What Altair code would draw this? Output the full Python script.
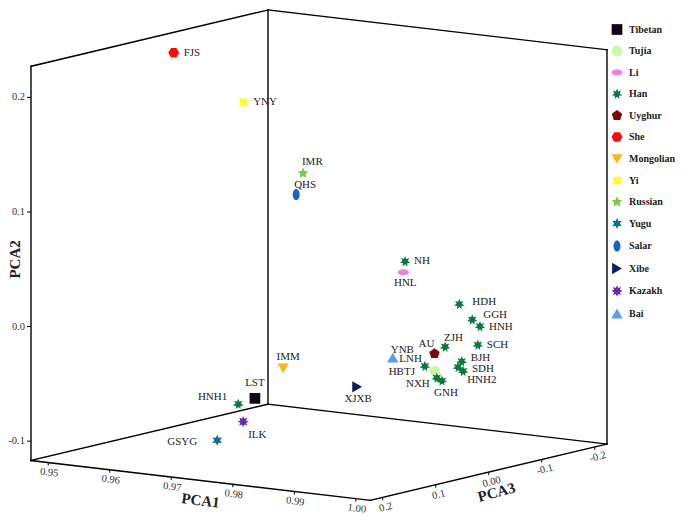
import math
import altair as alt
import pandas as pd

# ---------------- data ----------------
populations = ["FJS", "YNY", "IMR", "QHS", "NH", "HNL", "HDH", "GGH", "HNH", "SCH",
               "ZJH", "AU", "YNB", "LNH", "HBTJ", "BJH", "SDH", "HNH2", "NXH", "GNH",
               "XJXB", "IMM", "LST", "HNH1", "ILK", "GSYG"]
groups = ["She", "Yi", "Russian", "Salar", "Han", "Li", "Han", "Han", "Han", "Han",
          "Han", "Uyghur", "Bai", "Han", "Tujia", "Han", "Han", "Han", "Han", "Han",
          "Xibe", "Mongolian", "Tibetan", "Han", "Kazakh", "Yugu"]
pca1 = [0.9554, 0.9710, 0.9721, 0.9753, 0.9887, 0.9884, 0.9932, 0.9953, 0.9957, 0.9988,
        0.9952, 0.9952, 0.9910, 0.9945, 0.9970, 0.9979, 0.9973, 0.9990, 0.9973, 0.9990,
        0.9878, 0.9706, 0.9686, 0.9702, 0.9710, 0.9685]
pca2 = [0.2250, 0.1971, 0.1249, 0.1138, 0.0583, 0.0488, 0.0183, 0.0061, -0.0006, -0.0104,
        -0.0122, -0.0158, -0.0186, -0.0262, -0.0278, -0.0231, -0.0286, -0.0299, -0.0335, -0.0339,
        -0.0428, -0.0441, -0.0683, -0.0669, -0.0816, -0.0972]
pca3 = [0.05, 0.10, 0.0, 0.05, 0.0, 0.0, -0.05, -0.05, -0.06, -0.02,
        0.0, 0.02, 0.05, 0.03, 0.04, 0.0, 0.0, 0.01, 0.04, 0.05,
        0.08, 0.02, 0.05, 0.10, 0.10, 0.12]

legend_order = ["Tibetan", "Tujia", "Li", "Han", "Uyghur", "She", "Mongolian", "Yi",
                "Russian", "Yugu", "Salar", "Xibe", "Kazakh", "Bai"]

pca1_ticks = [0.95, 0.96, 0.97, 0.98, 0.99, 1.00]
pca1_tick_labels = ["0.95", "0.96", "0.97", "0.98", "0.99", "1.00"]
pca2_ticks = [-0.1, 0.0, 0.1, 0.2]
pca2_tick_labels = ["-0.1", "0.0", "0.1", "0.2"]
pca3_ticks = [0.2, 0.1, 0.0, -0.1, -0.2]
pca3_tick_labels = ["0.2", "0.1", "0.00", "-0.1", "-0.2"]

P1 = (0.9472, 1.0023)
P2 = (-0.1169, 0.2271)
P3 = (-0.223, 0.224)

# ---------------- styles ----------------
group_colors = ["#120318", "#ccf7a8", "#f07fd8", "#0a7a3c", "#7a0a0a", "#ff0a0a", "#ffb21a",
                "#ffff1a", "#7cc94a", "#126f8e", "#1566c0", "#0a1f5e", "#6a2aa0", "#5a9cf2"]


def star_path(n, inner, start=-90.0):
    pts = []
    for i in range(2 * n):
        r = 1.0 if i % 2 == 0 else inner
        a = math.radians(start + i * 180.0 / n)
        pts.append((r * math.cos(a), r * math.sin(a)))
    return "M" + " L".join(f"{x:.3f},{y:.3f}" for x, y in pts) + " Z"


def poly_path(n, start=-90.0):
    pts = []
    for i in range(n):
        a = math.radians(start + i * 360.0 / n)
        pts.append((math.cos(a), math.sin(a)))
    return "M" + " L".join(f"{x:.3f},{y:.3f}" for x, y in pts) + " Z"


ellipse_h = "M-1,0 A1,0.55 0 1,0 1,0 A1,0.55 0 1,0 -1,0 Z"
ellipse_v = "M0,-1 A0.62,1 0 1,0 0,1 A0.62,1 0 1,0 0,-1 Z"

group_shapes = ["square", "circle", ellipse_h, star_path(7, 0.5), poly_path(5),
                poly_path(6, 0), "triangle-down", star_path(4, 0.62, -45),
                star_path(5, 0.5), star_path(6, 0.5), ellipse_v, "triangle-right",
                star_path(8, 0.55), "triangle-up"]
group_sizes = [115, 130, 120, 190, 170, 170, 120, 130, 180, 180, 130, 120, 190, 120]

label_place = {
    "FJS": (10, 0, "left"), "YNY": (10, 0, "left"), "IMR": (-1, -11, "left"),
    "QHS": (-2, -10, "left"), "NH": (9, 0, "left"), "HNL": (2, 11, "center"),
    "HDH": (13, -2, "left"), "GGH": (11, -5, "left"), "HNH": (9, 1, "left"),
    "SCH": (9, 0, "left"), "ZJH": (-1, -9, "left"), "AU": (0, -10, "right"),
    "YNB": (-2, -8, "left"), "LNH": (-3, -7, "right"), "HBTJ": (-20, 1, "right"),
    "BJH": (9, -3, "left"), "SDH": (14, 2, "left"), "HNH2": (4, 9, "left"),
    "NXH": (-7, 6, "right"), "GNH": (4, 12, "center"), "XJXB": (1, 12, "center"),
    "IMM": (5, -11, "center"), "LST": (0, -15, "center"), "HNH1": (-11, -7, "right"),
    "ILK": (5, 13, "left"), "GSYG": (-20, 2, "right"),
}

FONT = "Liberation Serif"
W, H = 669, 506
X0, Y0 = 8, 8

# oblique projection of the 3D box onto the page (pixels)
ORIGIN = (268, 409)
U1 = (339, 41)
U2 = (0, -406)
U3 = (-237, 58)
KY, YTOP, YOFF = 0.971, 2, 9   # slight vertical squeeze so everything fits the page


def project(a, b, c):
    t1 = (a - P1[0]) / (P1[1] - P1[0])
    t2 = (b - P2[0]) / (P2[1] - P2[0])
    t3 = (c - P3[0]) / (P3[1] - P3[0])
    x = ORIGIN[0] + U1[0] * t1 + U2[0] * t2 + U3[0] * t3
    y = ORIGIN[1] + U1[1] * t1 + U2[1] * t2 + U3[1] * t3
    return x, YOFF + KY * (y - YTOP)


xs = alt.Scale(domain=[X0, X0 + W], nice=False, zero=False)
ys = alt.Scale(domain=[Y0, Y0 + H], nice=False, zero=False, reverse=True)
X = alt.X("x:Q", scale=xs, axis=None)
Y = alt.Y("y:Q", scale=ys, axis=None)
X2 = alt.X2("x2:Q")
Y2 = alt.Y2("y2:Q")

# ---------------- tables ----------------
rows = []
for pop, g, a, b, c in zip(populations, groups, pca1, pca2, pca3):
    x, y = project(a, b, c)
    dx, dy, al = label_place[pop]
    rows.append(dict(pop=pop, group=g, x=x, y=y, lx=x + dx, ly=y + dy, align=al))
pts_df = pd.DataFrame(rows)

corner = lambda i1, i2, i3: project(P1[i1], P2[i2], P3[i3])
edges = [((0, 0, 1), (0, 1, 1)), ((0, 1, 1), (0, 1, 0)), ((0, 1, 0), (0, 0, 0)),
         ((0, 1, 0), (1, 1, 0)), ((1, 1, 0), (1, 0, 0)), ((0, 0, 1), (0, 0, 0)),
         ((0, 0, 0), (1, 0, 0)), ((0, 0, 1), (1, 0, 1)), ((1, 0, 1), (1, 0, 0))]
edge_rows = []
for s, e in edges:
    (x1, y1), (x2, y2) = corner(*s), corner(*e)
    edge_rows.append(dict(x=x1, y=y1, x2=x2, y2=y2))
edge_df = pd.DataFrame(edge_rows)

tick_rows, tl_rows = [], []
for v, lab in zip(pca2_ticks, pca2_tick_labels):
    x, y = project(P1[0], v, P3[1])
    tick_rows.append(dict(x=x - 4, y=y, x2=x, y2=y))
    tl_rows.append(dict(x=x - 6, y=y, text=lab, axis="p2"))
for v, lab in zip(pca1_ticks, pca1_tick_labels):
    x, y = project(v, P2[0], P3[1])
    tick_rows.append(dict(x=x, y=y, x2=x, y2=y + 3))
    tl_rows.append(dict(x=x + 1, y=y + 10, text=lab, axis="p1"))
for v, lab in zip(pca3_ticks, pca3_tick_labels):
    x, y = project(P1[1], P2[0], v)
    tick_rows.append(dict(x=x, y=y, x2=x, y2=y + 3))
    tl_rows.append(dict(x=x + 3, y=y + 10, text=lab, axis="p3"))
tick_df = pd.DataFrame(tick_rows)
tl_df = pd.DataFrame(tl_rows)

t1x, t1y = project((P1[0] + P1[1]) / 2, P2[0], P3[1])
t2x, t2y = project(P1[0], (P2[0] + P2[1]) / 2, P3[1])
t3x, t3y = project(P1[1], P2[0], (P3[0] + P3[1]) / 2)
title_df = pd.DataFrame([
    dict(x=t1x, y=t1y + 20, text="PCA1", axis="p1"),
    dict(x=t2x - 16, y=t2y - 4, text="PCA2", axis="p2"),
    dict(x=t3x + 8, y=t3y + 20, text="PCA3", axis="p3"),
])

# ---------------- layers ----------------
box = alt.Chart(edge_df).mark_rule(color="black", strokeWidth=1.4, strokeCap="square").encode(
    x=X, y=Y, x2=X2, y2=Y2)
ticks = alt.Chart(tick_df).mark_rule(color="black", strokeWidth=1).encode(x=X, y=Y, x2=X2, y2=Y2)

tl_base = alt.Chart(tl_df)
tl2 = tl_base.transform_filter("datum.axis == 'p2'").mark_text(
    font=FONT, fontSize=10.5, color="#333", align="right", baseline="middle").encode(x=X, y=Y, text="text:N")
tl1 = tl_base.transform_filter("datum.axis == 'p1'").mark_text(
    font=FONT, fontSize=10.5, color="#333", align="center", baseline="middle", angle=7).encode(x=X, y=Y, text="text:N")
tl3 = tl_base.transform_filter("datum.axis == 'p3'").mark_text(
    font=FONT, fontSize=10.5, color="#333", align="center", baseline="middle", angle=346).encode(x=X, y=Y, text="text:N")

tt_base = alt.Chart(title_df)
tt1 = tt_base.transform_filter("datum.axis == 'p1'").mark_text(
    font=FONT, fontSize=15, fontWeight="bold", color="#222", angle=7, baseline="middle").encode(x=X, y=Y, text="text:N")
tt2 = tt_base.transform_filter("datum.axis == 'p2'").mark_text(
    font=FONT, fontSize=15, fontWeight="bold", color="#222", angle=270, baseline="middle").encode(x=X, y=Y, text="text:N")
tt3 = tt_base.transform_filter("datum.axis == 'p3'").mark_text(
    font=FONT, fontSize=15, fontWeight="bold", color="#222", angle=345, baseline="middle").encode(x=X, y=Y, text="text:N")

leg = alt.Legend(title=None, orient="none", legendX=603, legendY=16, padding=0,
                 labelFont=FONT, labelFontWeight="bold", labelFontSize=10, labelColor="#222",
                 labelOffset=6, labelLimit=200, symbolSize=135, symbolStrokeWidth=0, rowPadding=10.5)

points = alt.Chart(pts_df).mark_point(filled=True, opacity=1, strokeWidth=0).encode(
    x=X, y=Y,
    color=alt.Color("group:N", scale=alt.Scale(domain=legend_order, range=group_colors), legend=leg),
    shape=alt.Shape("group:N", scale=alt.Scale(domain=legend_order, range=group_shapes), legend=leg),
    size=alt.Size("group:N", scale=alt.Scale(domain=legend_order, range=group_sizes), legend=None),
)

lab_layers = []
for al in ["left", "center", "right"]:
    lab_layers.append(
        alt.Chart(pts_df).transform_filter(f"datum.align == '{al}'").mark_text(
            font=FONT, fontSize=11, color="#222", align=al, baseline="middle").encode(
            x=alt.X("lx:Q", scale=xs, axis=None), y=alt.Y("ly:Q", scale=ys, axis=None), text="pop:N")
    )

chart = alt.layer(box, ticks, tl1, tl2, tl3, tt1, tt2, tt3, points, *lab_layers).properties(
    width=W, height=H, padding=0, autosize=alt.AutoSizeParams(type="none")
).configure_view(stroke=None)

chart.save("out.html", embed_options={"renderer": "svg", "actions": False})
